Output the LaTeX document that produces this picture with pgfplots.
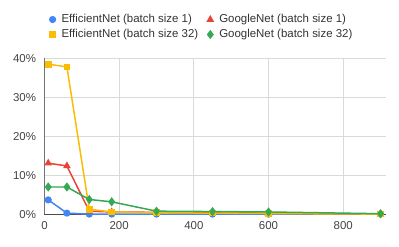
\documentclass[border=0pt]{standalone}
\usepackage{pgfplots}
\pgfplotsset{compat=1.18}
\usepackage{fontspec}
\setmainfont{Liberation Sans}
\definecolor{gblue}{HTML}{4285F4}
\definecolor{gred}{HTML}{EA4335}
\definecolor{gyellow}{HTML}{FBBC04}
\definecolor{ggreen}{HTML}{34A853}
\definecolor{tick}{HTML}{444444}
\begin{document}
\begin{tikzpicture}
\useasboundingbox (-44.5bp,-32.7bp) rectangle (354.5bp,214.3bp);
\begin{axis}[
  scale only axis,
  width=342bp, height=156bp,
  xmin=0, xmax=916, ymin=0, ymax=40,
  xtick={0,200,400,600,800},
  ytick={0,10,20,30,40},
  yticklabel={\pgfmathprintnumber{\tick}\%},
  /pgf/number format/assume math mode=true,
  tick label style={font=\fontsize{11.5}{13}\selectfont, text=tick},
  xticklabel style={yshift=-4bp},
  yticklabel style={xshift=-5bp},
  axis line style={draw=none},
  major tick length=0pt,
  grid=major,
  major grid style={draw=black!15, line width=0.8pt},
  clip=false,
  legend columns=2,
  legend style={at={(0.4576,1.2006)}, anchor=center, draw=none, fill=none,
    font=\fontsize{11.5}{13}\selectfont, text=black!80,
    nodes={inner ysep=2bp},
    /tikz/every even column/.append style={column sep=5bp},
    row sep=1.2bp},
  legend cell align=left,
  legend image code/.code={\path[draw=none,fill=none] (0,0) -- (12bp,0); \draw[#1, only marks] plot coordinates {(5bp,0bp)};},
  every axis plot/.append style={line width=1.5pt, mark size=2.8bp},
]
\draw[black!55, line width=1pt] (axis cs:0,0) -- (axis cs:0,40);
\draw[black!70, line width=1pt] (axis cs:0,0) -- (axis cs:916,0);
\addplot[gblue, mark=*, mark options={solid}] coordinates {
(10,3.7) (60,0.3) (120,0.05) (180,0.05) (300,0.05) (450,0.05) (600,0.05) (900,0.05)};
\addlegendentry{EfficientNet (batch size 1)}
\addplot[gred, mark=triangle*, mark size=3.0bp] coordinates {
(10,13.1) (60,12.4) (120,0.8) (180,0.6) (300,0.5) (450,0.35) (600,0.25) (900,0.05)};
\addlegendentry{GoogleNet (batch size 1)}
\addplot[gyellow, mark=square*, mark size=2.6bp] coordinates {
(10,38.5) (60,37.8) (120,1.3) (180,0.6) (300,0.4) (450,0.3) (600,0.2) (900,0.05)};
\addlegendentry{EfficientNet (batch size 32)}
\addplot[ggreen, mark=diamond*, mark size=3.4bp] coordinates {
(10,7.0) (60,7.0) (120,3.8) (180,3.2) (300,0.8) (450,0.7) (600,0.6) (900,0.15)};
\addlegendentry{GoogleNet (batch size 32)}
\end{axis}
\end{tikzpicture}
\end{document}
